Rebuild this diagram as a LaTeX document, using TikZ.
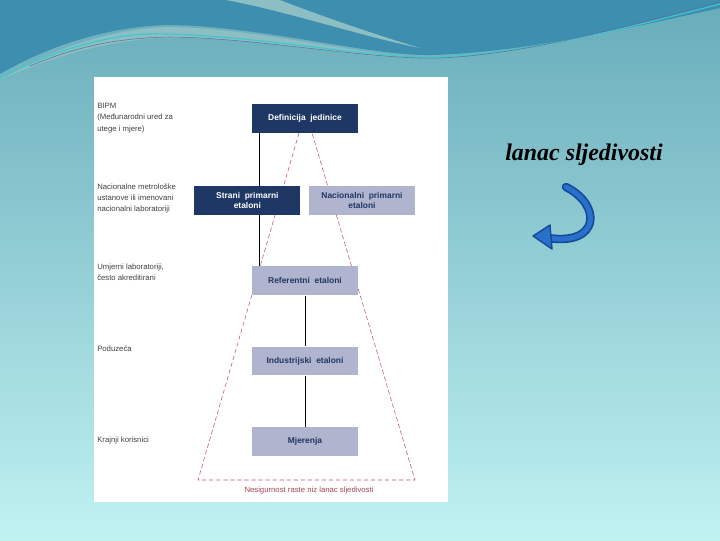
\documentclass[tikz,border=0pt]{standalone}
\usepackage{fontspec}
\setmainfont{Liberation Serif}
\setsansfont{Liberation Sans}
\usetikzlibrary{positioning,calc}
\definecolor{navy}{RGB}{30,55,100}
\definecolor{lilac}{RGB}{176,180,206}
\definecolor{dashred}{RGB}{196,84,96}
\definecolor{bgtop}{RGB}{104,172,186}
\definecolor{bgbot}{RGB}{192,242,242}
\definecolor{wavedark}{RGB}{62,142,176}
\definecolor{waveband}{RGB}{140,190,196}
\definecolor{wavecyan}{RGB}{60,200,210}
\definecolor{arrowblue}{RGB}{40,112,204}
\definecolor{arrowedge}{RGB}{22,74,150}

\begin{document}
\begin{tikzpicture}[x=0.025cm, y=-0.025cm,
  node distance=1.27cm,
  box/.style={rectangle, minimum width=2.65cm, minimum height=0.72cm, align=center, inner sep=1pt, font=\sffamily\bfseries\fontsize{6}{7.5}\selectfont},
  dark/.style={box, fill=navy, text=white},
  pale/.style={box, fill=lilac, text=navy},
  level/.style={anchor=north west, align=left, inner sep=0pt, text=black!75, font=\sffamily\fontsize{5.5}{8}\selectfont},
  link/.style={black, line width=0.5pt},
  cone/.style={densely dashed, dashred, line width=0.4pt}
]
  % background and top wave
  \useasboundingbox (0,0) rectangle (720,540);
  \shade[top color=bgtop, bottom color=bgbot] (0,0) rectangle (720,540);
  \fill[wavedark] (0,0) -- (0,74) .. controls (50,45) and (110,26) .. (170,25) .. controls (260,26) and (370,56) .. (430,55) .. controls (520,53) and (620,30) .. (720,8) -- (720,0) -- cycle;
  \fill[waveband] (0,80) .. controls (50,50) and (110,28) .. (170,27) .. controls (260,28) and (370,58) .. (430,57) .. controls (370,62) and (260,36) .. (165,38) .. controls (100,40) and (40,62) .. (0,80) -- cycle;
  \fill[waveband] (226,0) .. controls (290,12) and (360,36) .. (420,48) .. controls (360,30) and (300,8) .. (280,0) -- cycle;
  \draw[wavecyan, line width=0.8pt] (0,78) .. controls (50,52) and (110,32) .. (165,34) .. controls (260,36) and (370,58) .. (430,57) .. controls (520,55) and (620,30) .. (720,4);
  \draw[navy!70, line width=0.4pt] (30,66) .. controls (80,45) and (120,38) .. (170,37) .. controls (260,38) and (370,60) .. (440,58) .. controls (530,54) and (630,25) .. (720,2);

  % white panel
  \fill[white] (94,77) rectangle (448,502);

  % uncertainty cone
  \coordinate (coneL) at (299,133);
  \coordinate (coneR) at (312,133);
  \coordinate (baseL) at (198,480);
  \coordinate (baseR) at (415,480);
  \draw[cone] (coneL) -- (baseL) -- (baseR) -- (coneR);

  % chain of standards
  \node[dark] (defn) at (305,118.5) {Definicija\ \ jedinice};
  \node[dark, below=1.32cm of defn, xshift=-1.44cm] (strani) {Strani\ \ primarni\\etaloni};
  \node[pale, right=0.2cm of strani] (nacprim) {Nacionalni\ \ primarni\\etaloni};
  \node[pale, below=of strani, xshift=1.44cm] (refet) {Referentni\ \ etaloni};
  \node[pale, below=of refet] (indet) {Industrijski\ \ etaloni};
  \node[pale, below=of indet] (mjer) {Mjerenja};

  \coordinate (spine) at ([xshift=0.2cm]defn.south west);
  \draw[link] (spine) -- (spine |- strani.north);
  \draw[link] (spine |- strani.south) -- (spine |- refet.north);
  \draw[link] (refet) -- (indet);
  \draw[link] (indet) -- (mjer);

  % levels on the left
  \node[level] (bipm) at (97,103) {BIPM\\(Međunarodni ured za\\utege i mjere)};
  \node[level] (nmi) at (97,183.5) {Nacionalne metrološke\\ustanove ili imenovani\\nacionalni laboratoriji};
  \node[level] (umj) at (97,263.5) {Umjerni laboratoriji,\\često akreditirani};
  \node[level] (pod) at (97,345.5) {Poduzeća};
  \node[level] (kraj) at (97,436.5) {Krajnji korisnici};

  \node[font=\sffamily\fontsize{5.5}{7}\selectfont, text=dashred!85!black] (nesig) at (309,490) {Nesigurnost raste niz lanac sljedivosti};

  % right side
  \node[font=\bfseries\itshape\fontsize{17}{20}\selectfont] (chain) at (584,155) {lanac sljedivosti};
  \draw[arrowedge, line width=6pt, line cap=round] (566,187) .. controls (602,205) and (600,246) .. (548,238);
  \draw[arrowblue, line width=3.6pt, line cap=round] (566,187) .. controls (602,205) and (600,246) .. (548,238);
  \filldraw[fill=arrowblue, draw=arrowedge, line width=1pt, line join=round] (533,236) -- (550,225) -- (552,249) -- cycle;
\end{tikzpicture}
\end{document}
